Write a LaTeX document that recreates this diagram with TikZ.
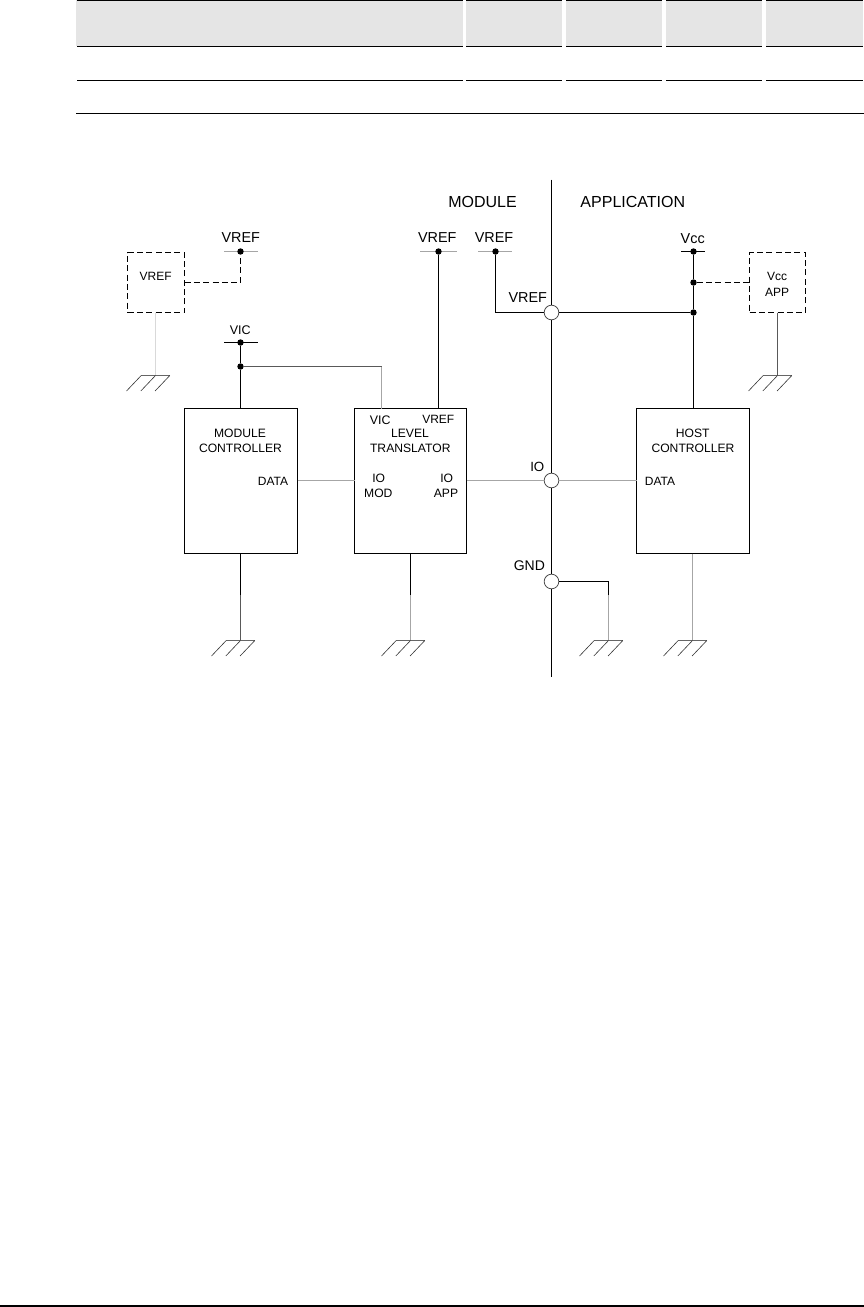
\documentclass[tikz,border=0pt]{standalone}
\usepackage{fontspec}
\setmainfont{Liberation Sans}
\definecolor{hdr}{HTML}{E5E5E5}
\tikzset{
  wire/.style={line width=.75pt,draw=black},
  wiregrey/.style={line width=.75pt,draw=black!35},
  wiremid/.style={line width=.75pt,draw=black!65},
  wirepale/.style={line width=.75pt,draw=black!15},
  dashwire/.style={line width=.75pt,draw=black,dash pattern=on 4.5pt off 2.5pt},
  chipbox/.style={draw=black,line width=.75pt,inner sep=0,outer sep=0,minimum height=108.75pt},
  optbox/.style={draw=black,line width=.75pt,inner sep=0,outer sep=0,minimum height=45pt,dash pattern=on 4.5pt off 2.5pt},
  dotnode/.style={circle,fill=black,inner sep=0,outer sep=0,minimum size=4.8pt},
  pinnode/.style={circle,draw=black!70,fill=white,line width=.6pt,inner sep=0,outer sep=0,minimum size=11pt},
  lab/.style={inner sep=0,outer sep=0,text height=.716em,text depth=0pt,font=\fontsize{#1}{#1}\selectfont},
  lab/.default=9,
  gndsym/.pic={
    \draw[line width=.6pt,draw=black!60] (-14.3,0) -- (14.3,0);
    \draw[line width=.45pt,draw=black!80] (-14.3,0) -- (-29,15.5) (0,0) -- (-14.7,15.5) (14.3,0) -- (-.4,15.5);
  }
}
\begin{document}
\begin{tikzpicture}[x=.75pt,y=-.75pt]
\useasboundingbox (0,0) rectangle (864,1307);
% table
\fill[hdr] (76,0) rectangle (463,46);
\fill[hdr] (466,0) rectangle (562,46);
\fill[hdr] (566,0) rectangle (662,46);
\fill[hdr] (666,0) rectangle (762,46);
\fill[hdr] (766,0) rectangle (863,46);
\foreach \y in {.5,46.5,80.5}{
  \foreach \a/\b in {77/463,466/562,566/662,666/762,766/863}{
    \draw[line width=.85pt] (\a,\y) -- (\b,\y);
  }
}
\draw[line width=.85pt] (76,113.5) -- (864,113.5);
\draw[line width=.85pt] (0,1306) -- (864,1306);
% boxes
\node[chipbox,minimum width=84.75pt] (modc) at (241,481) {};
\node[chipbox,minimum width=84pt] (lvl) at (410.5,481) {};
\node[chipbox,minimum width=84.75pt] (host) at (693,481) {};
\node[optbox,minimum width=42.75pt] (vrefbox) at (156,282.5) {};
\node[optbox,minimum width=42pt] (vccbox) at (777.5,282.5) {};
% coordinates
\coordinate (topbus) at (551.5,179.5);
\coordinate (botbus) at (551.5,676.5);
\coordinate (tA1) at (224,251.5); \coordinate (tA2) at (258,251.5);
\coordinate (tB1) at (420,251.5); \coordinate (tB2) at (457,251.5);
\coordinate (tC1) at (478,251.5); \coordinate (tC2) at (512,251.5);
\coordinate (tD1) at (224,342.5); \coordinate (tD2) at (258,342.5);
\coordinate (tE1) at (681,251.5); \coordinate (tE2) at (705,251.5);
\coordinate (g1) at (155.5,375.5);
\coordinate (g2) at (777.5,375.5);
\coordinate (g3) at (240.5,640.5); \coordinate (g3m) at (240.5,595);
\coordinate (g4) at (410.5,640.5); \coordinate (g4m) at (410.5,595);
\coordinate (g5) at (608.5,640.5); \coordinate (g5m) at (608.5,595);
\coordinate (g6) at (692.5,640.5);
% supply rails
\draw[wiregrey] (tA1) -- (tA2);
\draw[wiregrey] (tB1) -- (tB2);
\draw[wiregrey] (tC1) -- (tC2);
\draw[wire] (tD1) -- (tD2);
\draw[wire] (tE1) -- (tE2);
\node[dotnode] (dA) at (240.5,251.5) {};
\node[dotnode] (dB) at (438.5,251.5) {};
\node[dotnode] (dC) at (495.5,251.5) {};
\node[dotnode] (dD) at (240.5,342.5) {};
\node[dotnode] (dD2) at (240.5,366.5) {};
\node[dotnode] (dE) at (693.5,251.5) {};
\node[dotnode] (dE2) at (693.5,282.5) {};
\node[dotnode] (dE3) at (693.5,312.5) {};
% bus
\node[pinnode] (pV) at (551.5,312.5) {};
\node[pinnode] (pI) at (551.5,480.5) {};
\node[pinnode] (pG) at (551.5,581.5) {};
\draw[wire] (topbus) -- (pV);
\draw[wire] (pV) -- (pI);
\draw[wire] (pI) -- (pG);
\draw[wire] (pG) -- (botbus);
% connectors
\draw[dashwire] (vrefbox.east |- dE2) -| (dA);
\draw[dashwire] (dE2) -- (vccbox.west |- dE2);
\draw[wirepale] (g1 |- vrefbox.south) -- (g1);
\draw[wiremid] (vccbox.south) -- (g2);
\draw[wire] (dD) -- (dD2);
\draw[wire] (dD2) -- (dD2 |- modc.north);
\draw[wiremid] (dD2) -- (381.5,366.5);
\draw[wiregrey] (381.5,366.5) -- (381.5,408.5);
\draw[wire] (dB) -- (dB |- lvl.north);
\draw[wire] (dC) |- (pV);
\draw[wire] (pV) -- (dE3);
\draw[wire] (dE) -- (dE2);
\draw[wire] (dE2) -- (dE3);
\draw[wire] (dE3) -- (dE3 |- host.north);
\draw[wiregrey] (modc.east |- pI) -- (lvl.west |- pI);
\draw[wiregrey] (lvl.east |- pI) -- (pI);
\draw[wiregrey] (pI) -- (host.west |- pI);
\draw[wire] (g3 |- modc.south) -- (g3m);
\draw[wiremid] (g3m) -- (g3);
\draw[wire] (lvl.south) -- (g4m);
\draw[wiregrey] (g4m) -- (g4);
\draw[wire] (pG) -| (g5m);
\draw[wiregrey] (g5m) -- (g5);
\draw[wiregrey] (g6 |- host.south) -- (g6);
% ground symbols
\pic at (g1) {gndsym};
\pic at (g2) {gndsym};
\pic at (g3) {gndsym};
\pic at (g4) {gndsym};
\pic at (g5) {gndsym};
\pic at (g6) {gndsym};
% labels
\node[lab=12] (tMod) at (482.5,202.3) {MODULE};
\node[lab=12] (tApp) at (632.8,202.3) {APPLICATION};
\node[lab=10.8] (tV1) at (240.7,237.3) {VREF};
\node[lab=10.8] (tV2) at (437.3,237.3) {VREF};
\node[lab=10.8] (tV3) at (494,237.3) {VREF};
\node[lab=10.8] (tV4) at (527.7,297.3) {VREF};
\node[lab=10.8] (tVcc) at (692.7,238.3) {Vcc};
\node[lab=9.4] (tVic) at (240.3,330) {VIC};
\node[lab=9] (tVb) at (155.7,275.7) {VREF};
\node[lab=9] (tVc1) at (777,275.7) {Vcc};
\node[lab=9] (tVc2) at (777,292) {APP};
\node[lab=9.1] (tM1) at (240,432.3) {MODULE};
\node[lab=9.1] (tM2) at (240.5,447.3) {CONTROLLER};
\node[lab=9] (tM3) at (273,480.7) {DATA};
\node[lab=9.3] (tL1) at (380.3,419.3) {VIC};
\node[lab=9] (tL2) at (438.3,418.7) {VREF};
\node[lab=9.1] (tL3) at (410,432.3) {LEVEL};
\node[lab=9.1] (tL4) at (410.3,447.3) {TRANSLATOR};
\node[lab=9.1] (tL5) at (378.7,477.7) {IO};
\node[lab=9.1] (tL6) at (378.3,492.7) {MOD};
\node[lab=9.1] (tL7) at (446.7,477.7) {IO};
\node[lab=9.1] (tL8) at (446,492.7) {APP};
\node[lab=9.1] (tH1) at (692.7,432.3) {HOST};
\node[lab=9.1] (tH2) at (693,447.3) {CONTROLLER};
\node[lab=9] (tH3) at (660,480.7) {DATA};
\node[lab=10] (tIO) at (537.3,466.7) {IO};
\node[lab=10.5] (tGND) at (529.3,566) {GND};
\end{tikzpicture}
\end{document}
